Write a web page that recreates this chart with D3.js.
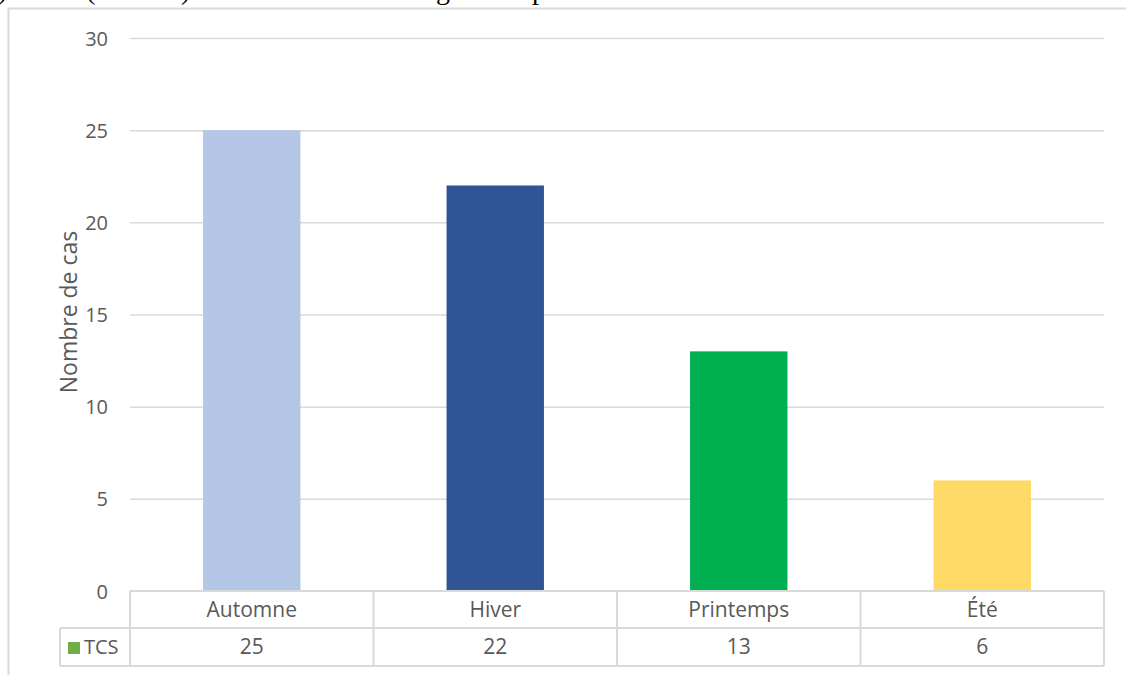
<!DOCTYPE html>
<html><head><meta charset="utf-8">
<script src="https://cdn.jsdelivr.net/npm/d3@7"></script>
<style>
html,body{margin:0;padding:0;background:#fff;}
svg{display:block;}
text{font-family:"Open Sans","Noto Sans",sans-serif;fill:#595959;}
</style></head>
<body>
<svg id="c" width="1126" height="675"></svg>
<script>
const categories = ["Automne", "Hiver", "Printemps", "Été"];
const values = [25, 22, 13, 6];
const colors = ["#B4C7E7", "#2F5597", "#00B050", "#FFD966"];
const seriesName = "TCS";
const yTicks = [0, 5, 10, 15, 20, 25, 30];
const yTitle = "Nombre de cas";

const svg = d3.select("#c");
const mLeft = 130, mRight = 1104, mTop = 38, mBottom = 591;
const x = d3.scaleBand().domain(categories).range([mLeft, mRight]).paddingInner(0.6).paddingOuter(0.3);
const xCol = d3.scaleBand().domain(categories).range([mLeft, mRight]).padding(0);
const y = d3.scaleLinear().domain([0, 30]).range([mBottom, mTop]);

// cropped serif text at top (descenders only visible)
const topFrag = svg.append("g");
[[-2, ")"], [86, "("], [181, ")"], [436, "g"], [532, "p"]].forEach(([px, t]) => {
  topFrag.append("text").attr("x", px).attr("y", -1).text(t)
    .style("fill", "#000").style("font-family", "'Liberation Serif',serif").style("font-size", "28px");
});

// outer chart border
svg.append("path").attr("d", "M8.5,675 L8.5,8.5 L1126,8.5").attr("fill", "none")
  .attr("stroke", "#d9d9d9").attr("stroke-width", 2);

// gridlines
const yAxis = d3.axisLeft(y).tickValues(yTicks).tickSize(-(mRight - mLeft)).tickPadding(22);
const gy = svg.append("g").attr("transform", `translate(${mLeft},0)`).call(yAxis);
gy.select(".domain").remove();
gy.selectAll(".tick line").attr("stroke", "#d9d9d9").attr("stroke-width", 1.5);
gy.selectAll(".tick text").style("font-size", "20px").style("fill", "#595959")
  .style("font-family", "'Open Sans','Noto Sans',sans-serif").attr("dy", "0.35em");
gy.selectAll(".tick").filter(d => d === 0).select("line").remove();

// bars
svg.append("g").selectAll("rect").data(values).join("rect")
  .attr("x", (d, i) => x(categories[i]))
  .attr("width", x.bandwidth())
  .attr("y", d => y(d))
  .attr("height", d => y(0) - y(d))
  .attr("fill", (d, i) => colors[i]);

// y title
svg.append("text").attr("transform", `translate(77,312) rotate(-90)`)
  .attr("text-anchor", "middle").style("font-size", "23px").text(yTitle);

// data table
const row1 = mBottom, row2 = 628, row3 = 666, legL = 60;
const tbl = svg.append("g").attr("fill", "none").attr("stroke", "#d9d9d9").attr("stroke-width", 2);
tbl.append("line").attr("x1", mLeft).attr("x2", mRight).attr("y1", row1).attr("y2", row1);
tbl.append("line").attr("x1", legL).attr("x2", mRight).attr("y1", row2).attr("y2", row2);
tbl.append("line").attr("x1", legL).attr("x2", mRight).attr("y1", row3).attr("y2", row3);
tbl.append("line").attr("x1", legL).attr("x2", legL).attr("y1", row2).attr("y2", row3);
const colEdges = categories.map(c => xCol(c)).concat([xCol(categories[categories.length - 1]) + xCol.bandwidth()]);
tbl.selectAll("line.v").data(colEdges).join("line").attr("class", "v")
  .attr("x1", d => d).attr("x2", d => d).attr("y1", row1).attr("y2", row3);

svg.append("g").selectAll("text").data(categories).join("text")
  .attr("x", d => xCol(d) + xCol.bandwidth() / 2).attr("y", (row1 + row2) / 2)
  .attr("dy", "0.35em").attr("text-anchor", "middle").style("font-size", "21px").text(d => d);
svg.append("g").selectAll("text").data(values).join("text")
  .attr("x", (d, i) => xCol(categories[i]) + xCol.bandwidth() / 2).attr("y", (row2 + row3) / 2)
  .attr("dy", "0.35em").attr("text-anchor", "middle").style("font-size", "21px").text(d => d);

// legend cell
svg.append("rect").attr("x", 68).attr("y", 642).attr("width", 12).attr("height", 12).attr("fill", "#70AD47");
svg.append("text").attr("x", 84).attr("y", (row2 + row3) / 2).attr("dy", "0.35em")
  .style("font-size", "20px").text(seriesName);
</script>
</body></html>
